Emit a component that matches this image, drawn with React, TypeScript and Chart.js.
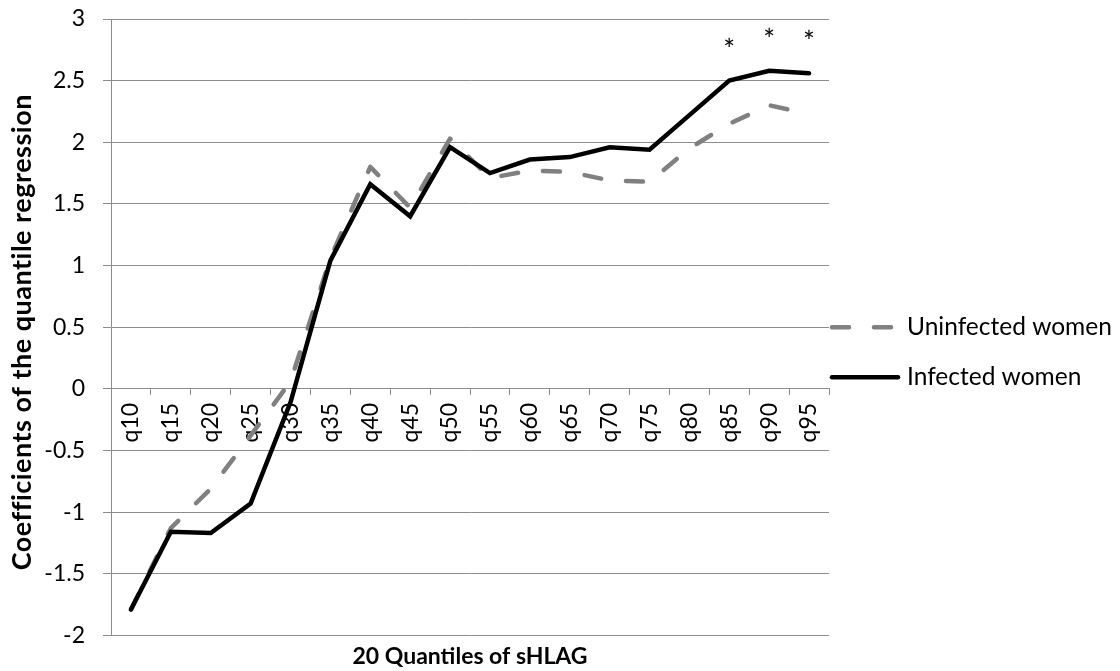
import React, { useEffect, useRef } from "react";
import { Chart, registerables } from "chart.js";

Chart.register(...registerables);

const categories = ["q10", "q15", "q20", "q25", "q30", "q35", "q40", "q45", "q50", "q55", "q60", "q65", "q70", "q75", "q80", "q85", "q90", "q95"];
const uninfected = [-1.79, -1.13, -0.81, -0.38, 0.06, 1.06, 1.8, 1.47, 2.03, 1.71, 1.77, 1.76, 1.69, 1.68, 1.95, 2.15, 2.3, 2.23];
const infected = [-1.79, -1.16, -1.17, -0.93, -0.11, 1.04, 1.66, 1.4, 1.96, 1.75, 1.86, 1.88, 1.96, 1.94, 2.22, 2.5, 2.58, 2.56];
const significance = ["", "", "", "", "", "", "", "", "", "", "", "", "", "", "", "*", "*", "*"];
const seriesNames = ["Uninfected women", "Infected women"];
const yMin = -2;
const yMax = 3;
const yStep = 0.5;
const xTitle = "20 Quantiles of sHLAG";
const yTitle = "Coefficients of the quantile regression";

const FONT = "Lato, 'Open Sans', sans-serif";
const GRID = "#8c8c8c";
const FS = 23;

const extrasPlugin = {
  id: "extras",
  afterDatasetsDraw(chart: any) {
    const { ctx, chartArea } = chart;
    ctx.save();
    // y axis title
    ctx.save();
    ctx.translate(22, (chartArea.top + chartArea.bottom) / 2 + 5);
    ctx.rotate(-Math.PI / 2);
    ctx.font = `bold 27px ${FONT}`;
    try {
      (ctx as any).letterSpacing = "0.5px";
    } catch (e) {}
    ctx.fillStyle = "#000";
    ctx.textAlign = "center";
    ctx.textBaseline = "middle";
    ctx.fillText(yTitle, 0, 0);
    try {
      (ctx as any).letterSpacing = "0px";
    } catch (e) {}
    ctx.restore();

    // significance stars above infected series
    const infIdx = chart.data.datasets.findIndex((d: any) => d.label === seriesNames[1]);
    const meta = chart.getDatasetMeta(infIdx);
    ctx.font = `28px ${FONT}`;
    ctx.fillStyle = "#000";
    ctx.textAlign = "center";
    ctx.textBaseline = "alphabetic";
    significance.forEach((s, i) => {
      if (!s) return;
      const pt = meta.data[i];
      ctx.fillText(s, pt.x, pt.y - 21);
    });
    // legend
    const mid = (chartArea.top + chartArea.bottom) / 2;
    chart.data.datasets.forEach((ds: any, k: number) => {
      const y = mid + k * 50;
      ctx.beginPath();
      ctx.setLineDash(ds.borderDash || []);
      ctx.lineCap = "round";
      ctx.lineWidth = ds.borderWidth;
      ctx.strokeStyle = ds.borderColor;
      ctx.moveTo(chartArea.right + 3, y);
      ctx.lineTo(chartArea.right + 69, y);
      ctx.stroke();
      ctx.setLineDash([]);
      ctx.font = `24.5px ${FONT}`;
      ctx.fillStyle = "#000";
      ctx.textAlign = "left";
      ctx.textBaseline = "middle";
      ctx.fillText(ds.label, chartArea.right + 78, y);
    });
    ctx.restore();
  },
};

export default function App() {
  const ref = useRef<HTMLCanvasElement>(null);
  useEffect(() => {
    const chart = new Chart(ref.current as HTMLCanvasElement, {
      type: "line",
      data: {
        labels: categories,
        datasets: [
          {
            label: seriesNames[0],
            data: uninfected,
            borderColor: "#808080",
            borderWidth: 4.5,
            borderDash: [17, 25],
            borderCapStyle: "round",
            borderJoinStyle: "round",
            pointRadius: 0,
            fill: false,
            tension: 0,
            order: 1,
          },
          {
            label: seriesNames[1],
            data: infected,
            borderColor: "#000000",
            borderWidth: 4.5,
            borderCapStyle: "round",
            borderJoinStyle: "miter",
            pointRadius: 0,
            fill: false,
            tension: 0,
            order: 0,
          },
        ],
      },
      options: {
        animation: false,
        responsive: false,
        layout: { padding: { top: 19, right: 291, bottom: 0, left: 0 } },
        plugins: {
          legend: { display: false },
          tooltip: { enabled: false },
          title: {
            display: true,
            position: "bottom",
            fullSize: false,
            text: xTitle,
            color: "#000",
            font: { family: FONT, size: FS, weight: "bold", lineHeight: 1.2 },
            padding: { top: 7, bottom: 1 },
          },
        },
        scales: {
          x: {
            type: "category",
            position: { y: 0 } as any,
            offset: true,
            grid: {
              display: true,
              drawOnChartArea: false,
              drawTicks: true,
              tickLength: 6,
              offset: true,
              color: GRID,
            },
            border: { display: true, color: GRID, width: 1 },
            ticks: {
              autoSkip: false,
              minRotation: 90,
              maxRotation: 90,
              padding: 8,
              color: "#000",
              font: { family: FONT, size: FS },
            },
          },
          y: {
            min: yMin,
            max: yMax,
            afterFit: (s: any) => {
              s.width = 111;
              s.paddingTop = 0;
              s.paddingBottom = 0;
            },
            ticks: {
              stepSize: yStep,
              padding: 18,
              color: "#000",
              font: { family: FONT, size: FS },
              callback: (v: any) => String(v),
            },
            grid: { color: GRID, tickLength: 8, drawTicks: true },
            border: { display: true, color: GRID },
            title: { display: false },
          },
        },
      },
      plugins: [extrasPlugin],
    } as any);
    return () => chart.destroy();
  }, []);
  return (
    <div style={{ position: "absolute", left: 0, top: 0, width: 1120, height: 671, background: "#fff" }}>
      <canvas ref={ref} width={1120} height={671} />
    </div>
  );
}
